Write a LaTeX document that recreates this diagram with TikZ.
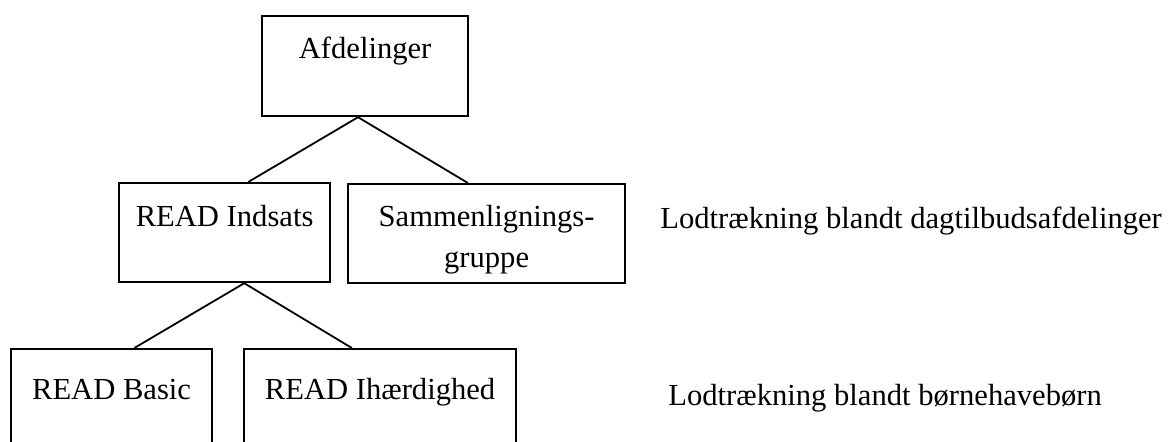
\documentclass[tikz,border=0pt]{standalone}
\usepackage{fontspec}
\setmainfont{Liberation Serif}
\usetikzlibrary{calc}

\begin{document}
\begin{tikzpicture}[x=0.5pt, y=-0.5pt,
  box/.style={draw, line width=1.1pt, inner sep=0pt, anchor=north west},
  txt/.style={font=\fontsize{15.3}{20.5}\selectfont, align=center, anchor=base, inner sep=0pt},
  link/.style={line width=0.9pt}]
\useasboundingbox (0,0) rectangle (1176,442);
\clip (0,0) rectangle (1176,442);
% boxes
\node[box, minimum width=103pt, minimum height=50pt, label={[txt, yshift=-22pt]north:Afdelinger}] at (261,15) (afd) {};
\node[box, minimum width=105.5pt, minimum height=49.5pt, label={[txt, yshift=-22.5pt]north:READ Indsats}] at (118,182) (indsats) {};
\node[box, minimum width=138.5pt, minimum height=49.5pt, label={[txt, yshift=-42.5pt]north:Sammenlignings-\\gruppe}] at (347,183) (sammen) {};
\node[box, minimum width=100.5pt, minimum height=60pt, label={[txt, yshift=-26pt]north:READ Basic}] at (10,348) (basic) {};
\node[box, minimum width=136pt, minimum height=60pt, label={[txt, yshift=-26pt]north:READ Ihærdighed}] at (243,348) (ihaerd) {};
% randomisering
\node[txt, anchor=base west] at (660,229) (rand1) {Lodtrækning blandt dagtilbudsafdelinger};
\node[txt, anchor=base west] at (668,406) (rand2) {Lodtrækning blandt børnehavebørn};
% links
\draw[link] ($(afd.south west)!0.466!(afd.south east)$) -- ($(indsats.north west)!0.611!(indsats.north east)$);
\draw[link] ($(afd.south west)!0.466!(afd.south east)$) -- ($(sammen.north west)!0.433!(sammen.north east)$);
\draw[link] ($(indsats.south west)!0.592!(indsats.south east)$) -- ($(basic.north west)!0.612!(basic.north east)$);
\draw[link] ($(indsats.south west)!0.592!(indsats.south east)$) -- ($(ihaerd.north west)!0.397!(ihaerd.north east)$);
\end{tikzpicture}
\end{document}
